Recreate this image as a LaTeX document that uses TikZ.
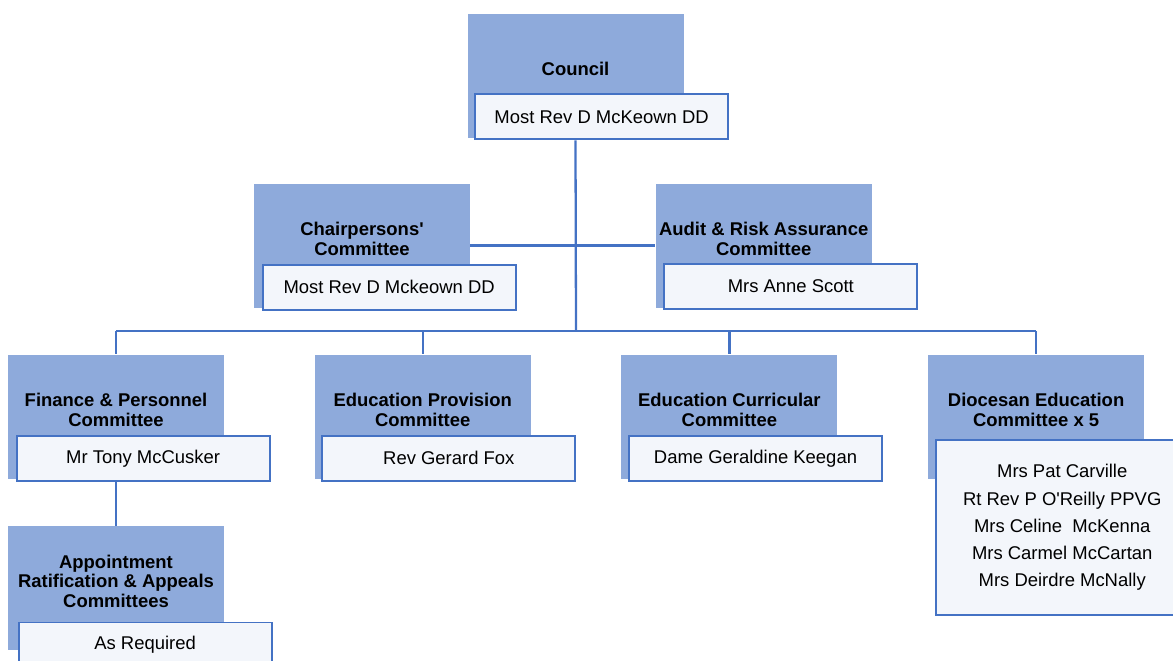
\documentclass[tikz,border=0pt]{standalone}
\usepackage{fontspec}
\setmainfont{Liberation Sans}
\usepackage{tikz}
\usetikzlibrary{positioning}
\definecolor{headblue}{HTML}{8EAADB}
\definecolor{edgeblue}{HTML}{4472C4}
\definecolor{namefill}{HTML}{F3F6FB}
\tikzset{node distance=1.8cm, every text node part/.style={align=center}}
\tikzstyle{headbox} = [rectangle, fill=headblue, minimum width=4.32cm, minimum height=2.48cm, inner sep=0pt]
\tikzstyle{headtext} = [inner sep=0pt, font={\bfseries\fontsize{10.5}{11.2}\selectfont}]
\tikzstyle{namebox} = [rectangle, draw=edgeblue, fill=namefill, line width=1.1pt, minimum width=5.06cm, minimum height=0.9cm, inner sep=0pt, font={\fontsize{10.5}{12}\selectfont}]

\begin{document}
\begin{tikzpicture}[
    namelist/.style={namebox, minimum height=3.5cm, font={\fontsize{10.5}{15.4}\selectfont}},
    line/.style={draw=edgeblue, line width=1.3pt}
  ]
  \clip (0,0) rectangle (23.46,-13.22);

  % Define council
  \node[headbox] (council) at (11.51,-1.52) {};
  \node[headtext] (councilT) at ([yshift=0.14cm]council.center) {Council};
  \node[namebox, anchor=south west] (councilN) at ([xshift=0.14cm, yshift=-0.04cm]council.south west) {Most Rev D McKeown DD};

  % Define chairpersons and audit blocks
  \node[headbox] (chair) at (7.24,-4.91) {};
  \node[headtext] (chairT) at ([yshift=0.13cm]chair.center) {Chairpersons\textquotesingle\\Committee};
  \node[namebox, anchor=south west] (chairN) at ([xshift=0.16cm, yshift=-0.06cm]chair.south west) {Most Rev D Mckeown DD};

  \node[headbox, right=3.7cm of chair] (audit) {};
  \node[headtext] (auditT) at ([yshift=0.13cm]audit.center) {Audit \& Risk Assurance\\Committee};
  \node[namebox, anchor=south west] (auditN) at ([xshift=0.16cm, yshift=-0.04cm]audit.south west) {Mrs Anne Scott};

  % Define committee row
  \node[headbox] (finance) at (2.32,-8.33) {};
  \node[headtext] (financeT) at ([yshift=0.13cm]finance.center) {Finance \& Personnel\\Committee};
  \node[namebox, anchor=south west] (financeN) at ([xshift=0.16cm, yshift=-0.06cm]finance.south west) {Mr Tony McCusker};

  \node[headbox, right=of finance] (provision) {};
  \node[headtext] (provisionT) at ([yshift=0.13cm]provision.center) {Education Provision\\Committee};
  \node[namebox, anchor=south west] (provisionN) at ([xshift=0.14cm, yshift=-0.06cm]provision.south west) {Rev Gerard Fox};

  \node[headbox, right=of provision] (curricular) {};
  \node[headtext] (curricularT) at ([yshift=0.13cm]curricular.center) {Education Curricular\\Committee};
  \node[namebox, anchor=south west] (curricularN) at ([xshift=0.14cm, yshift=-0.06cm]curricular.south west) {Dame Geraldine Keegan};

  \node[headbox, right=of curricular] (diocesan) {};
  \node[headtext] (diocesanT) at ([yshift=0.13cm]diocesan.center) {Diocesan Education\\Committee x 5};
  \node[namelist, anchor=north west] (diocesanN) at ([xshift=0.14cm, yshift=0.8cm]diocesan.south west) {Mrs Pat Carville\\Rt Rev P O\textquotesingle Reilly PPVG\\Mrs Celine~~McKenna\\Mrs Carmel McCartan\\Mrs Deirdre McNally};

  % Define appointment block
  \node[headbox, below=0.94cm of finance] (appoint) {};
  \node[headtext] (appointT) at ([yshift=0.14cm]appoint.center) {Appointment\\Ratification \& Appeals\\Committees};
  \node[namebox, anchor=north west] (appointN) at ([xshift=0.2cm, yshift=0.58cm]appoint.south west) {As Required};

  % Draw lines
  \coordinate (bus) at (11.52,-6.62);
  \draw[line] (council.south |- councilN.south) -- (bus);
  \draw[line] (chair.east) -- (audit.west);
  \draw[line] (finance.north |- bus) -- (diocesan.north |- bus);
  \foreach \n in {finance, provision, curricular, diocesan}
    \draw[line] (\n.north |- bus) -- (\n.north);
  \draw[line] (finance.south |- financeN.south) -- (appoint.north);

\end{tikzpicture}
\end{document}
